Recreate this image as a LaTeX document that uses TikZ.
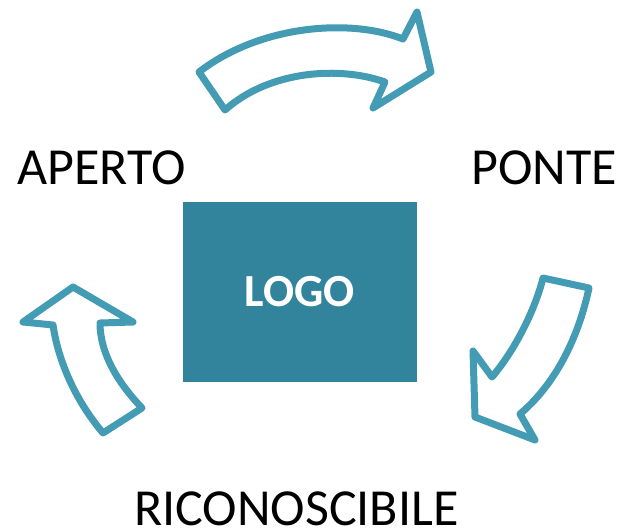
\documentclass[tikz,border=0pt]{standalone}
\usepackage{fontspec}
\setmainfont{Carlito}
\usetikzlibrary{positioning,shadows}
\definecolor{logoteal}{RGB}{49,132,155}
\definecolor{arrowteal}{RGB}{67,156,180}

\begin{document}
\begin{tikzpicture}[x=1pt, y=-1pt,
	label text/.style={
		font=\fontsize{52}{60}\selectfont,
		inner sep=0pt
	},
	logo box/.style={
		fill=logoteal,
		minimum width=234pt,
		minimum height=180pt,
		text=white,
		font=\fontsize{46}{52}\selectfont\bfseries
	},
	block arrow/.style={
		draw=arrowteal,
		line width=7pt,
		line join=round,
		fill=white,
		drop shadow={opacity=0.18, shadow xshift=1.5pt, shadow yshift=-2.5pt}
	}]
		\useasboundingbox (0,0) rectangle (622,528);

		\node[logo box]                      (logo)      at (300,292) {LOGO};
		\node[label text,anchor=base west]   (aperto)    at (17,184)  {APERTO};
		\node[label text,anchor=base east]   (ponte)     at (617,184) {PONTE};
		\node[label text,anchor=base west]   (riconosc)  at (134,525) {RICONOSCIBILE};

		% top arrow, from APERTO over to PONTE
		\draw[block arrow] (199,72) .. controls (260,25) and (350,18) .. (403,39)
			-- (417,12) -- (431,72) -- (373,108) -- (385,82)
			.. controls (340,66) and (270,70) .. (225,110) -- cycle;
		% right arrow, from PONTE down to RICONOSCIBILE
		\draw[block arrow] (543,278) -- (589,288)
			.. controls (580,330) and (560,380) .. (520,414)
			-- (535,440) -- (475,417) -- (473,351) -- (492,377)
			.. controls (515,350) and (535,310) .. (543,278) -- cycle;
		% left arrow, back up to APERTO
		\draw[block arrow] (73,287) -- (133,322) -- (100,323)
			.. controls (100,355) and (120,385) .. (142,408)
			-- (103,433)
			.. controls (75,400) and (58,360) .. (53,325)
			-- (23,322) -- cycle;
	\end{tikzpicture}
\end{document}
